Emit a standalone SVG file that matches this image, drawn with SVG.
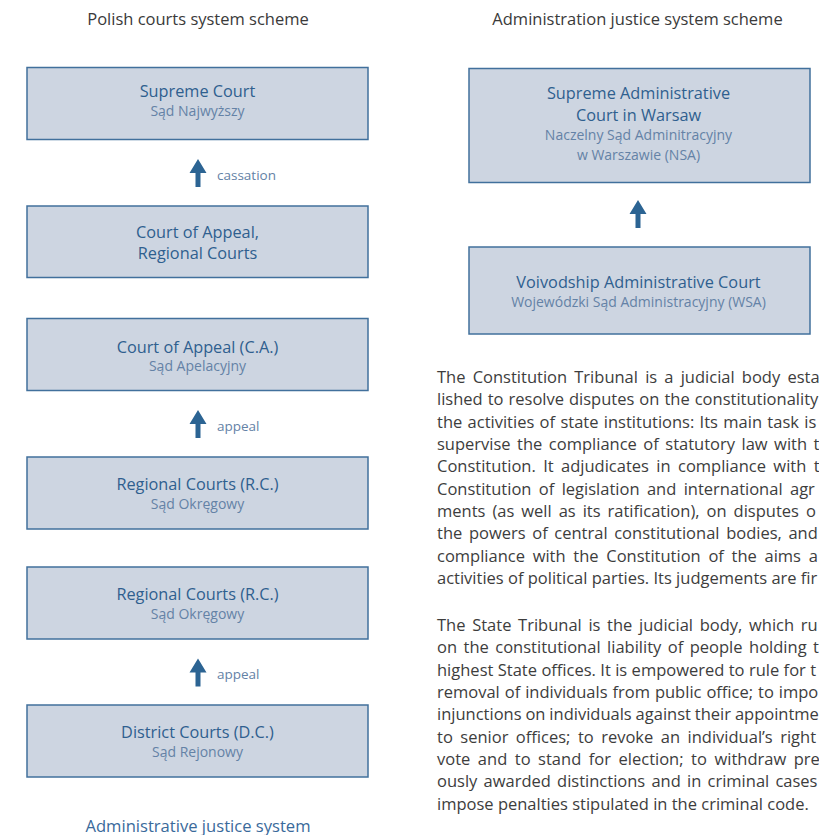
<svg xmlns="http://www.w3.org/2000/svg" width="819" height="835" viewBox="0 0 819 835">
<style>
.bg{fill:#ffffff}
.box{fill:#cdd5e1;stroke:#41709c;stroke-width:1.5}
text{font-family:"Open Sans","Noto Sans",sans-serif;font-weight:400}
.ttl{font-size:16.5px;fill:#3a3a3a;text-anchor:middle}
.main{font-size:16.3px;fill:#2f5f8f;text-anchor:middle}
.sub{font-size:14px;fill:#6482a6;text-anchor:middle}
.lbl{font-size:13.5px;fill:#6482a6}
.arr{fill:#2c6493}
.para{font-size:16.5px;fill:#3d3d3d}
.foot{font-size:16.6px;fill:#3a6a9b;text-anchor:middle}
</style>
<defs>
<path id="up" d="M0,0 L8.5,14 L2.5,14 L2.5,28 L-2.5,28 L-2.5,14 L-8.5,14 Z"/>
</defs>
<rect class="bg" x="0" y="0" width="819" height="835"/>

<text class="ttl" x="198" y="25">Polish courts system scheme</text>
<text class="ttl" x="637.5" y="25">Administration justice system scheme</text>

<g id="supreme-court">
<rect class="box" x="27" y="67.5" width="341" height="72"/>
<text class="main" x="197.5" y="97">Supreme Court</text>
<text class="sub" x="197.5" y="115.5">Sąd Najwyższy</text>
</g>
<g id="court-appeal-regional">
<rect class="box" x="27" y="206" width="341" height="71.5"/>
<text class="main" x="197.5" y="237.5">Court of Appeal,</text>
<text class="main" x="197.5" y="259">Regional Courts</text>
</g>
<g id="court-of-appeal">
<rect class="box" x="27" y="318.5" width="341" height="72"/>
<text class="main" x="197.5" y="352.5">Court of Appeal (C.A.)</text>
<text class="sub" x="197.5" y="371">Sąd Apelacyjny</text>
</g>
<g id="regional-courts-1">
<rect class="box" x="27" y="457" width="341" height="72"/>
<text class="main" x="197.5" y="490">Regional Courts (R.C.)</text>
<text class="sub" x="197.5" y="508.5">Sąd Okręgowy</text>
</g>
<g id="regional-courts-2">
<rect class="box" x="27" y="567" width="341" height="72"/>
<text class="main" x="197.5" y="600">Regional Courts (R.C.)</text>
<text class="sub" x="197.5" y="618.5">Sąd Okręgowy</text>
</g>
<g id="district-courts">
<rect class="box" x="27" y="705" width="341" height="72"/>
<text class="main" x="197.5" y="738">District Courts (D.C.)</text>
<text class="sub" x="197.5" y="756.5">Sąd Rejonowy</text>
</g>

<g id="supreme-administrative-court">
<rect class="box" x="469" y="68.5" width="341" height="114"/>
<text class="main" x="638.5" y="99">Supreme Administrative</text>
<text class="main" x="638.5" y="120.5">Court in Warsaw</text>
<text class="sub" x="638.5" y="140">Naczelny Sąd Adminitracyjny</text>
<text class="sub" x="638.5" y="159.5">w Warszawie (NSA)</text>
</g>
<g id="voivodship-administrative-court">
<rect class="box" x="469" y="247" width="341" height="87"/>
<text class="main" x="638.5" y="287.5">Voivodship Administrative Court</text>
<text class="sub" x="638.5" y="306.5">Wojewódzki Sąd Administracyjny (WSA)</text>
</g>

<g id="connectors">
<use href="#up" class="arr" x="198" y="159"/>
<text class="lbl" x="217" y="180">cassation</text>
<use href="#up" class="arr" x="198" y="410"/>
<text class="lbl" x="217" y="431">appeal</text>
<use href="#up" class="arr" x="198" y="658.5"/>
<text class="lbl" x="217" y="679">appeal</text>
<use href="#up" class="arr" x="638" y="200"/>
</g>

<g id="constitution-tribunal-text">
<text class="para" x="437" y="383" style="word-spacing:2.9px">The Constitution Tribunal is a judicial body esta</text>
<text class="para" x="437" y="405.35" style="word-spacing:0.73px">lished to resolve disputes on the constitutionality</text>
<text class="para" x="437" y="427.7" style="word-spacing:1.04px">the activities of state institutions: Its main task is</text>
<text class="para" x="437" y="450.05" style="word-spacing:2.2px">supervise the compliance of statutory law with t</text>
<text class="para" x="437" y="472.4" style="word-spacing:3.1px">Constitution. It adjudicates in compliance with t</text>
<text class="para" x="437" y="494.75" style="word-spacing:3.1px">Constitution of legislation and international agr</text>
<text class="para" x="437" y="517.1" style="word-spacing:2.7px">ments (as well as its ratification), on disputes o</text>
<text class="para" x="437" y="539.45" style="word-spacing:2.35px">the powers of central constitutional bodies, and</text>
<text class="para" x="437" y="561.8" style="word-spacing:3.4px">compliance with the Constitution of the aims a</text>
<text class="para" x="437" y="584.15">activities of political parties. Its judgements are fir</text>
</g>
<g id="state-tribunal-text">
<text class="para" x="437" y="631" style="word-spacing:2.39px">The State Tribunal is the judicial body, which ru</text>
<text class="para" x="437" y="653.35" style="word-spacing:2.2px">on the constitutional liability of people holding t</text>
<text class="para" x="437" y="675.7" style="word-spacing:0.1px">highest State offices. It is empowered to rule for t</text>
<text class="para" x="437" y="698.05" style="word-spacing:0.66px">removal of individuals from public office; to impo</text>
<text class="para" x="437" y="720.4" style="word-spacing:-0.4px">injunctions on individuals against their appointme</text>
<text class="para" x="437" y="742.75" style="word-spacing:3.2px">to senior offices; to revoke an individual’s right</text>
<text class="para" x="437" y="765.1" style="word-spacing:3.25px">vote and to stand for election; to withdraw pre</text>
<text class="para" x="437" y="787.45" style="word-spacing:1.92px">ously awarded distinctions and in criminal cases</text>
<text class="para" x="437" y="809.8">impose penalties stipulated in the criminal code.</text>
</g>

<text class="foot" x="198" y="831.5">Administrative justice system</text>
</svg>
